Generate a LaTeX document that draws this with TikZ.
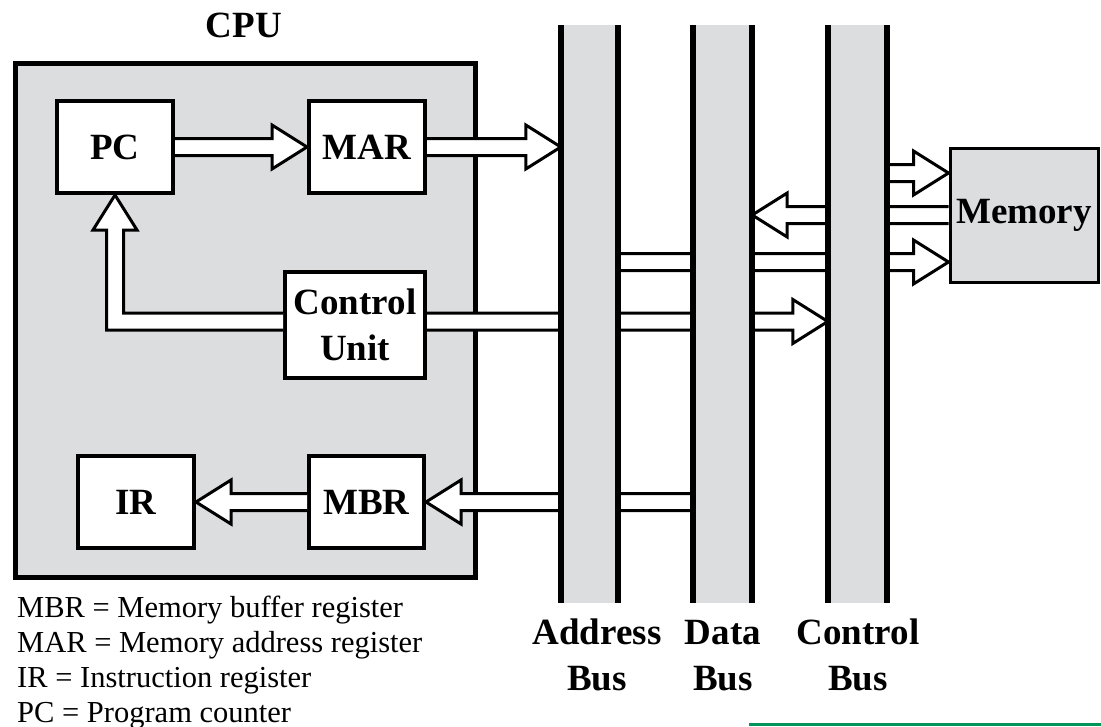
\documentclass[tikz,border=0pt]{standalone}
\usepackage{fontspec}
\setmainfont{Liberation Serif}
\usetikzlibrary{calc}

\definecolor{busgray}{RGB}{220,221,223}
\definecolor{rulegreen}{RGB}{0,150,90}

\tikzset{
  lbl/.style={font=\fontsize{37}{46}\selectfont\bfseries},
  reg/.style={draw=black, line width=4pt, fill=white, inner sep=0pt, lbl},
  fatarrow/.style={draw=black, fill=white, line width=3pt, line join=miter},
  busline/.style={draw=black, line width=5.5pt},
  legend/.style={anchor=base west, inner sep=0pt, font=\fontsize{30.5}{35}\selectfont},
  buslabel/.style={lbl, anchor=base, inner sep=0pt},
}

% Hollow horizontal block arrow from #1 (open end) to #2 (tip)
\newcommand\harrow[2]{%
  \filldraw[fatarrow] let \p1=#1, \p2=#2, \n1={sign(\x2-\x1)} in
    ({\x1},{\y1+8.5pt}) -- ({\x2-\n1*35pt},{\y1+8.5pt}) -- ({\x2-\n1*35pt},{\y1+22pt})
    -- ({\x2},{\y1}) -- ({\x2-\n1*35pt},{\y1-22pt}) -- ({\x2-\n1*35pt},{\y1-8.5pt})
    -- ({\x1},{\y1-8.5pt});
}

\begin{document}
\begin{tikzpicture}[x=1pt,y=-1pt]
\useasboundingbox (0,0) rectangle (1101,726);

% CPU enclosure and title
\node[draw=black, line width=5pt, fill=busgray, minimum width=460pt, minimum height=514pt, inner sep=0pt] (cpu) at (245,320) {};
\node[lbl, anchor=base, inner sep=0pt] (cputitle) at (244,37) {CPU};

% registers and control unit
\node[reg, minimum width=116pt, minimum height=92pt] (pc) at (115,147) {PC};
\node[reg, minimum width=116pt, minimum height=92pt] (mar) at (367,147) {MAR};
\node[reg, minimum width=140pt, minimum height=106pt, align=center] (cu) at (355,325) {Control\\Unit};
\node[reg, minimum width=116pt, minimum height=92pt] (ir) at (136,502) {IR};
\node[reg, minimum width=115pt, minimum height=92pt] (mbr) at (366.5,502) {MBR};

% memory module
\node[draw=black, line width=3pt, fill=busgray, minimum width=148pt, minimum height=134pt, inner sep=0pt, lbl] (mem) at (1024,215) {Memory};

% bus extents (filled later, on top of the arrows)
\path node[minimum width=57pt, minimum height=578pt, inner sep=0pt] (abus) at (589.5,314) {};
\path node[minimum width=59pt, minimum height=578pt, inner sep=0pt] (dbus) at (722.5,314) {};
\path node[minimum width=59pt, minimum height=578pt, inner sep=0pt] (cbus) at (857.5,314) {};

% attachment points
\coordinate (cuout) at ([yshift=3.5pt]cu.east);
\coordinate (cuin) at ([yshift=3.5pt]cu.west);
\coordinate (memtop) at ([yshift=42pt]mem.west);
\coordinate (membot) at ([yshift=-47pt]mem.west);

% block arrows
\harrow{(pc.east)}{(mar.west)}
\harrow{(mar.east)}{(abus.west |- mar.east)}
\harrow{(cuout)}{(cbus.west |- cuout)}
\harrow{(abus.east |- membot)}{(membot)}
\harrow{(mem.west)}{(dbus.east |- mem.west)}
\harrow{(cbus.east |- memtop)}{(memtop)}
\harrow{(dbus.west |- mbr.east)}{(mbr.east)}
\harrow{(mbr.west)}{(ir.east)}

% control unit to program counter
\filldraw[fatarrow] let \p1=(cuin), \p2=(pc.south) in
  ({\x1},{\y1-8.5pt}) -- ({\x2-8.5pt},{\y1-8.5pt}) -- ({\x2-8.5pt},{\y2-35pt})
  -- ({\x2-22pt},{\y2-35pt}) -- ({\x2},{\y2}) -- ({\x2+22pt},{\y2-35pt})
  -- ({\x2+8.5pt},{\y2-35pt}) -- ({\x2+8.5pt},{\y1+8.5pt}) -- ({\x1},{\y1+8.5pt});

% buses
\foreach \b in {abus,dbus,cbus} {
  \fill[busgray] (\b.north west) rectangle (\b.south east);
  \draw[busline] (\b.north west) -- (\b.south west);
  \draw[busline] (\b.north east) -- (\b.south east);
}

% bus labels
\node[buslabel] (alab1) at (597,644) {Address};
\node[buslabel] (alab2) at (597,690) {Bus};
\node[buslabel] (dlab1) at (723,644) {Data};
\node[buslabel] (dlab2) at (723,690) {Bus};
\node[buslabel] (clab1) at (858,644) {Control};
\node[buslabel] (clab2) at (858,690) {Bus};

% legend
\node[legend] (leg1) at (17,617) {MBR = Memory buffer register};
\node[legend] (leg2) at (17,652) {MAR = Memory address register};
\node[legend] (leg3) at (17,687) {IR = Instruction register};
\node[legend] (leg4) at (17,722) {PC = Program counter};

% rule at the lower right
\fill[rulegreen] (749,722.5) rectangle (1101,726);
\end{tikzpicture}
\end{document}
